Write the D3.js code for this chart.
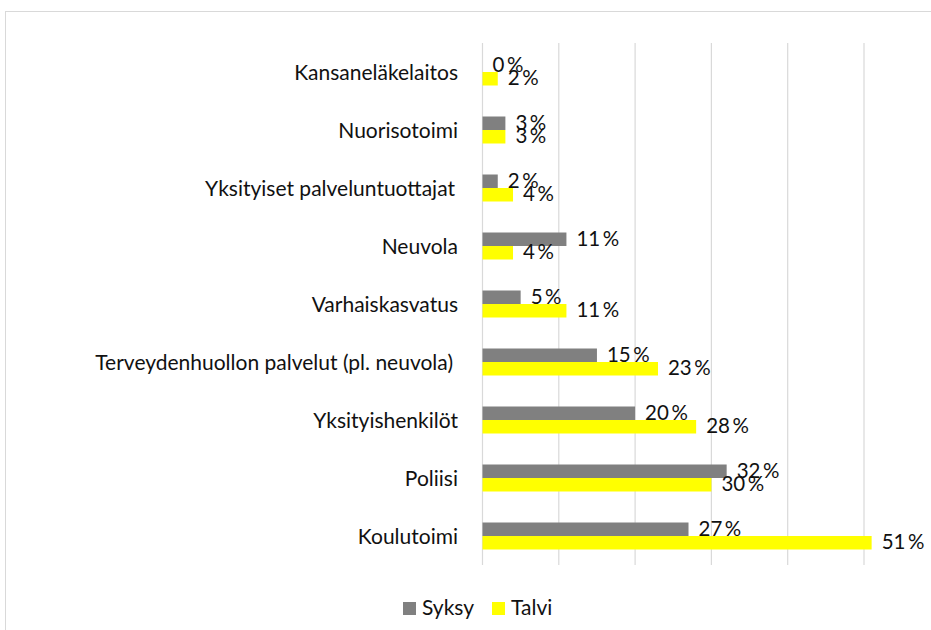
<!DOCTYPE html>
<html><head><meta charset="utf-8">
<script src="https://cdn.jsdelivr.net/npm/d3@7"></script>
<style>body{margin:0;background:#fff;} text{font-family:Lato,"Noto Sans",sans-serif;}</style>
</head><body>
<script>
const categories = ["Kansaneläkelaitos","Nuorisotoimi","Yksityiset palveluntuottajat","Neuvola","Varhaiskasvatus","Terveydenhuollon palvelut (pl. neuvola)","Yksityishenkilöt","Poliisi","Koulutoimi"];
const syksy = [0,3,2,11,5,15,20,32,27];
const talvi = [2,3,4,4,11,23,28,30,51];
const seriesNames = ["Syksy","Talvi"];
const colors = ["#808080","#FFFF00"];
const gridTicks = [0,10,20,30,40,50];

const W=931,H=630,FS=21,LFS=20.5;
const svg=d3.select("body").append("svg").attr("width",W).attr("height",H);
svg.append("rect").attr("x",5.5).attr("y",11.5).attr("width",940).attr("height",640)
  .attr("fill","#fff").attr("stroke","#d9d9d9");

const x=d3.scaleLinear().domain([0,50]).range([482.5,864]);
const y=d3.scaleBand().domain(categories).range([43,565]);
const inner=d3.scaleBand().domain(seriesNames).range([0,27]);

svg.append("g").selectAll("line").data(gridTicks).join("line")
  .attr("x1",d=>x(d)).attr("x2",d=>x(d)).attr("y1",43).attr("y2",565)
  .attr("stroke","#d9d9d9").attr("stroke-width",1.2);

const yAxis=svg.append("g").attr("transform","translate(458,1)")
  .call(d3.axisLeft(y).tickSize(0).tickPadding(0));
yAxis.select(".domain").remove();
yAxis.selectAll("text").attr("font-size",FS).attr("fill","#111")
  .style("font-family",'Lato,"Noto Sans",sans-serif');
yAxis.selectAll("text").filter(d=>d.startsWith("Terveyden")).attr("dx",-5);
yAxis.selectAll("text").filter(d=>d.startsWith("Yksityiset")).attr("dx",-3);

const data=[syksy,talvi];
data.forEach((vals,si)=>{
  const g=svg.append("g");
  g.selectAll("rect").data(vals).join("rect")
    .attr("x",x(0)).attr("width",d=>x(d)-x(0))
    .attr("y",(d,i)=>y(categories[i])+y.bandwidth()/2-13.5+inner(seriesNames[si]))
    .attr("height",inner.bandwidth()).attr("fill",colors[si]);
  g.selectAll("text").data(vals).join("text")
    .attr("x",d=>x(d)+10)
    .attr("y",(d,i)=>y(categories[i])+y.bandwidth()/2-13.5+inner(seriesNames[si])+inner.bandwidth()/2+1.5)
    .attr("dominant-baseline","middle").attr("font-size",LFS).attr("fill","#111")
    .text(d=>d+"\u2009%");
});

const leg=svg.append("g").attr("transform","translate(403,608.5)");
seriesNames.forEach((n,i)=>{
  const gx=i===0?0:89;
  leg.append("rect").attr("x",gx).attr("y",-6.5).attr("width",13).attr("height",13).attr("fill",colors[i]);
  leg.append("text").attr("x",gx+19).attr("y",1).attr("dominant-baseline","middle")
    .attr("font-size",FS).attr("fill","#111").text(n);
});
</script>
</body></html>
